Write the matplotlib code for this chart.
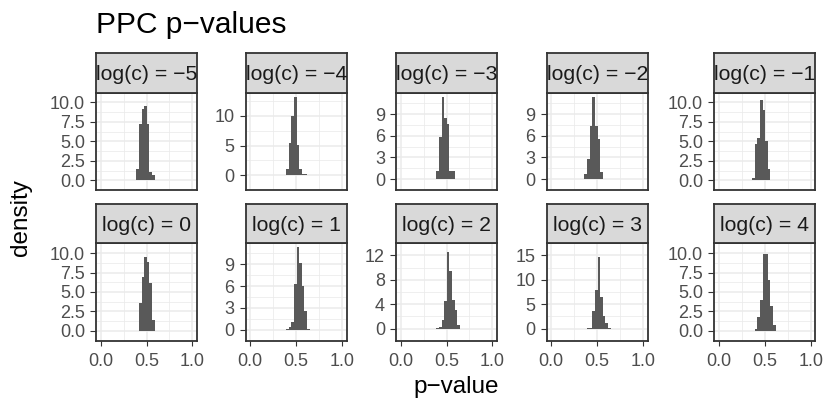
import numpy as np
import matplotlib
matplotlib.use("Agg")
import matplotlib.pyplot as plt

plt.rcParams['font.family'] = ['Liberation Sans', 'DejaVu Sans']
plt.rcParams['axes.unicode_minus'] = True

# ---- data ----
log_c = [-5, -4, -3, -2, -1, 0, 1, 2, 3, 4]
bin_left = [0.3615, 0.390, 0.4185, 0.447, 0.4755, 0.504, 0.5325, 0.561, 0.5895, 0.618]
bin_width = 0.0285

density = {
    -5: [0.05, 1.4, 7.25, 9.2, 9.55, 7.25, 1.1, 0.7, 0.05, 0.05],
    -4: [0.05, 1.0, 5.4, 9.9, 13.25, 5.1, 1.0, 0.25, 0.2, 0.05],
    -3: [0.05, 1.07, 5.9, 11.4, 8.4, 7.7, 1.07, 1.07, 0.05, 0.05],
    -2: [0.77, 2.83, 7.3, 11.4, 7.3, 5.5, 1.0, 0.05, 0.05, 0.05],
    -1: [0.26, 4.6, 5.4, 10.3, 9.0, 5.0, 1.4, 0.05, 0.0, 0.0],
    0: [0.05, 0.05, 3.6, 6.9, 9.5, 8.8, 6.1, 1.4, 0.05, 0.0],
    1: [0.0, 0.05, 0.34, 1.07, 6.3, 11.3, 9.2, 6.0, 2.6, 0.05],
    2: [0.0, 0.05, 0.3, 1.4, 4.6, 12.5, 9.5, 4.7, 3.0, 0.6],
    3: [0.0, 0.05, 0.1, 3.7, 8.0, 14.6, 6.5, 2.6, 1.1, 0.05],
    4: [0.05, 0.26, 1.74, 3.96, 9.9, 9.9, 6.5, 3.2, 0.74, 0.05],
}

yticks = {
    -5: [0, 2.5, 5, 7.5, 10], -4: [0, 5, 10], -3: [0, 3, 6, 9], -2: [0, 3, 6, 9],
    -1: [0, 2.5, 5, 7.5, 10], 0: [0, 2.5, 5, 7.5, 10], 1: [0, 3, 6, 9],
    2: [0, 4, 8, 12], 3: [0, 5, 10, 15], 4: [0, 2.5, 5, 7.5, 10],
}
xticks = [0.0, 0.5, 1.0]
xticklabels = ["0.0", "0.5", "1.0"]

# ---- layout in pixels ----
W, H = 830, 415
col_left = [96, 245.7, 396, 546.7, 714.3]
panel_w = 101
rows = [(53.3, 92.7, 190.0), (204.0, 243.3, 340.7)]  # strip top, panel top, panel bottom

dark = '#333333'
txt = '#4D4D4D'
grid = '#EBEBEB'


def fr(x0, y0, x1, y1):
    return [x0 / W, 1 - y1 / H, (x1 - x0) / W, (y1 - y0) / H]


fig = plt.figure(figsize=(W / 100, H / 100), dpi=100)

for i, c in enumerate(log_c):
    r, col = divmod(i, 5)
    st, pt, pb = rows[r]
    x0 = col_left[col]
    ax = fig.add_axes(fr(x0, pt, x0 + panel_w, pb))
    ax.bar(bin_left, density[c], width=bin_width, align='edge',
           color='#595959', linewidth=0, zorder=3)
    ax.use_sticky_edges = False
    ax.margins(y=0.05)
    ax.set_xlim(-0.05, 1.05)

    yt = yticks[c]
    step = yt[1] - yt[0]
    ax.set_yticks(yt)
    if any(isinstance(v, float) for v in yt):
        ax.set_yticklabels([f"{v:.1f}" for v in yt])
    else:
        ax.set_yticklabels([str(v) for v in yt])
    ax.set_yticks([v + step / 2 for v in [yt[0] - step] + yt], minor=True)
    ax.set_xticks(xticks)
    ax.set_xticks([0.25, 0.75], minor=True)
    if r == 1:
        ax.set_xticklabels(xticklabels)
    else:
        ax.set_xticklabels([])
        ax.tick_params(axis='x', which='major', length=0)

    ax.grid(True, which='major', color=grid, linewidth=1.1, zorder=0)
    ax.grid(True, which='minor', color=grid, linewidth=0.55, zorder=0)
    ax.set_axisbelow(True)
    ax.tick_params(which='minor', length=0)
    ax.tick_params(axis='y', which='major', length=4.5, width=0.8, color=dark,
                   labelcolor=txt, labelsize=13, pad=3.5)
    if r == 1:
        ax.tick_params(axis='x', which='major', length=3.3, width=0.8, color=dark,
                       labelcolor=txt, labelsize=13, pad=5.5)
    for s in ax.spines.values():
        s.set_color(dark)
        s.set_linewidth(1.3)

    # facet strip
    sax = fig.add_axes(fr(x0, st, x0 + panel_w, pt))
    sax.set_facecolor('#D9D9D9')
    sax.set_xticks([])
    sax.set_yticks([])
    for s in sax.spines.values():
        s.set_color(dark)
        s.set_linewidth(1.3)
    lab = f"log(c) = {c}".replace('-', '\u2212')
    sax.text(0.5, 0.46, lab, ha='center', va='center', fontsize=15.3,
             color='#1A1A1A', transform=sax.transAxes)

fig.text(96 / W, 1 - 33.3 / H, 'PPC p\u2212values', fontsize=21.5,
         ha='left', va='baseline')
fig.text(456 / W, 1 - 393 / H, 'p\u2212value', fontsize=17.5,
         ha='center', va='baseline')
fig.text(21 / W, 1 - 218 / H, 'density', fontsize=17.5, rotation=90,
         ha='center', va='center')

fig.savefig('out.png', dpi=100)
